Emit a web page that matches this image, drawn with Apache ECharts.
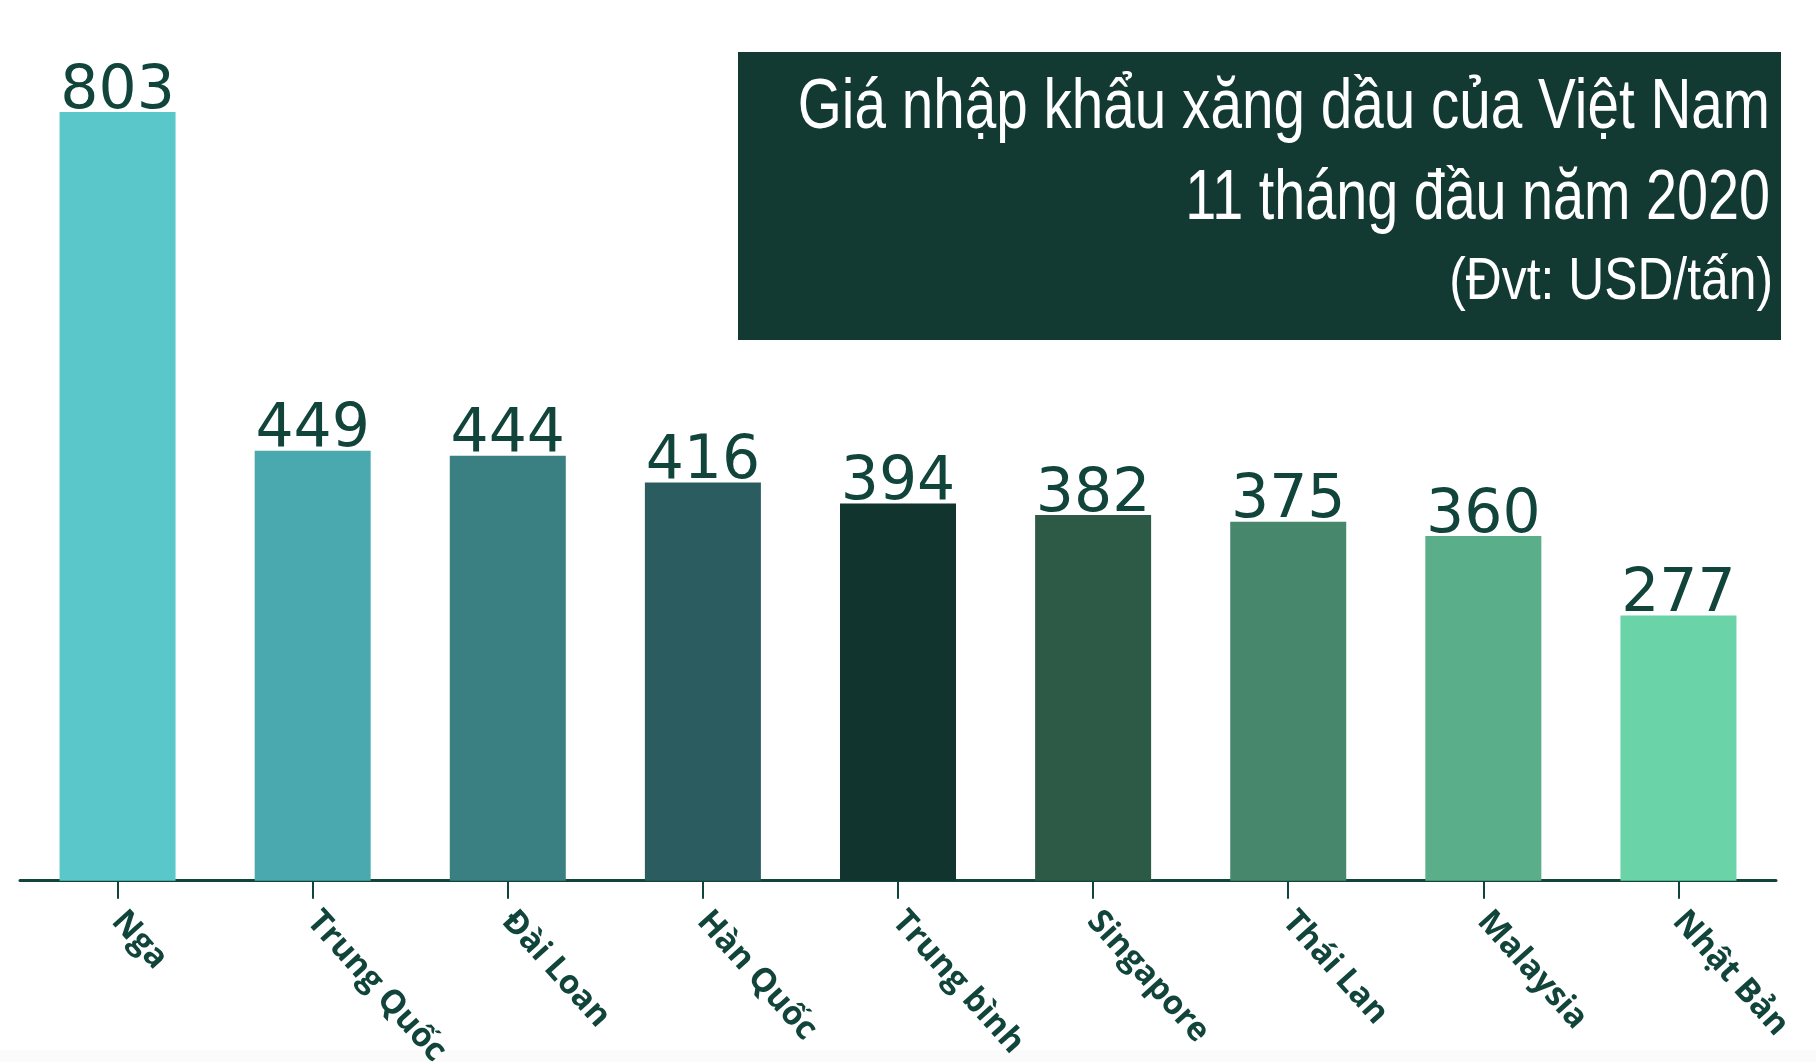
<!DOCTYPE html>
<html>
<head>
<meta charset="utf-8">
<script src="https://cdn.jsdelivr.net/npm/echarts@6/dist/echarts.min.js"></script>
<style>
html,body{margin:0;padding:0;background:#ffffff;}
#chart{width:1816px;height:1062px;}
</style>
</head>
<body>
<div id="chart"></div>
<script>
const categories = ['Nga', 'Trung Quốc', 'Đài Loan', 'Hàn Quốc', 'Trung bình', 'Singapore', 'Thái Lan', 'Malaysia', 'Nhật Bản'];
const values = [803, 449, 444, 416, 394, 382, 375, 360, 277];
const barColors = ['#5AC8CB', '#4AA9AE', '#3A8083', '#2A5C60', '#11352E', '#2D5A47', '#47886C', '#5AAE89', '#6BD3A8'];
const titleLines = ['Giá nhập khẩu xăng dầu của Việt Nam', '11 tháng đầu năm 2020', '(Đvt: USD/tấn)'];

const dark = '#11443A';
const chart = echarts.init(document.getElementById('chart'));
const titleFont = '"Liberation Sans", Arial, sans-serif';
chart.setOption({
  backgroundColor: '#ffffff',
  animation: false,
  grid: { left: 20, right: 40, top: 67, bottom: 181.3, containLabel: false, outerBoundsMode: 'none' },
  xAxis: {
    type: 'category',
    data: categories,
    axisLine: { show: true, lineStyle: { color: dark, width: 3 } },
    axisTick: { show: true, alignWithLabel: true, length: 18, lineStyle: { color: dark, width: 2 } },
    axisLabel: {
      rotate: -48,
      margin: 35,
      color: dark,
      fontFamily: '"Open Sans", sans-serif',
      fontWeight: 'bold',
      fontSize: 33,
      interval: 0
    }
  },
  yAxis: {
    type: 'value',
    min: 0,
    max: 850,
    show: false,
    splitLine: { show: false }
  },
  series: [{
    type: 'bar',
    data: values.map((v, i) => ({ value: v, itemStyle: { color: barColors[i] } })),
    barWidth: 116,
    label: {
      show: true,
      position: 'top',
      distance: -10,
      color: dark,
      fontFamily: '"DejaVu Sans", sans-serif',
      fontSize: 60
    }
  }],
  graphic: [
    { type: 'rect', shape: { x: 0, y: 1050, width: 1816, height: 12 }, style: { fill: '#fbfbfb' }, silent: true },
    { type: 'rect', shape: { x: 738, y: 52, width: 1043, height: 288 }, style: { fill: '#123A33' }, silent: true },
    { type: 'text', x: 1770, y: 108, scaleX: 0.798, style: { x: 0, y: 0, text: titleLines[0], fill: '#ffffff', font: '71px ' + titleFont, textAlign: 'right', textVerticalAlign: 'middle' } },
    { type: 'text', x: 1770, y: 199, scaleX: 0.785, style: { x: 0, y: 0, text: titleLines[1], fill: '#ffffff', font: '71px ' + titleFont, textAlign: 'right', textVerticalAlign: 'middle' } },
    { type: 'text', x: 1773, y: 282, scaleX: 0.83, style: { x: 0, y: 0, text: titleLines[2], fill: '#ffffff', font: '60px ' + titleFont, textAlign: 'right', textVerticalAlign: 'middle' } }
  ]
});
</script>
</body>
</html>
